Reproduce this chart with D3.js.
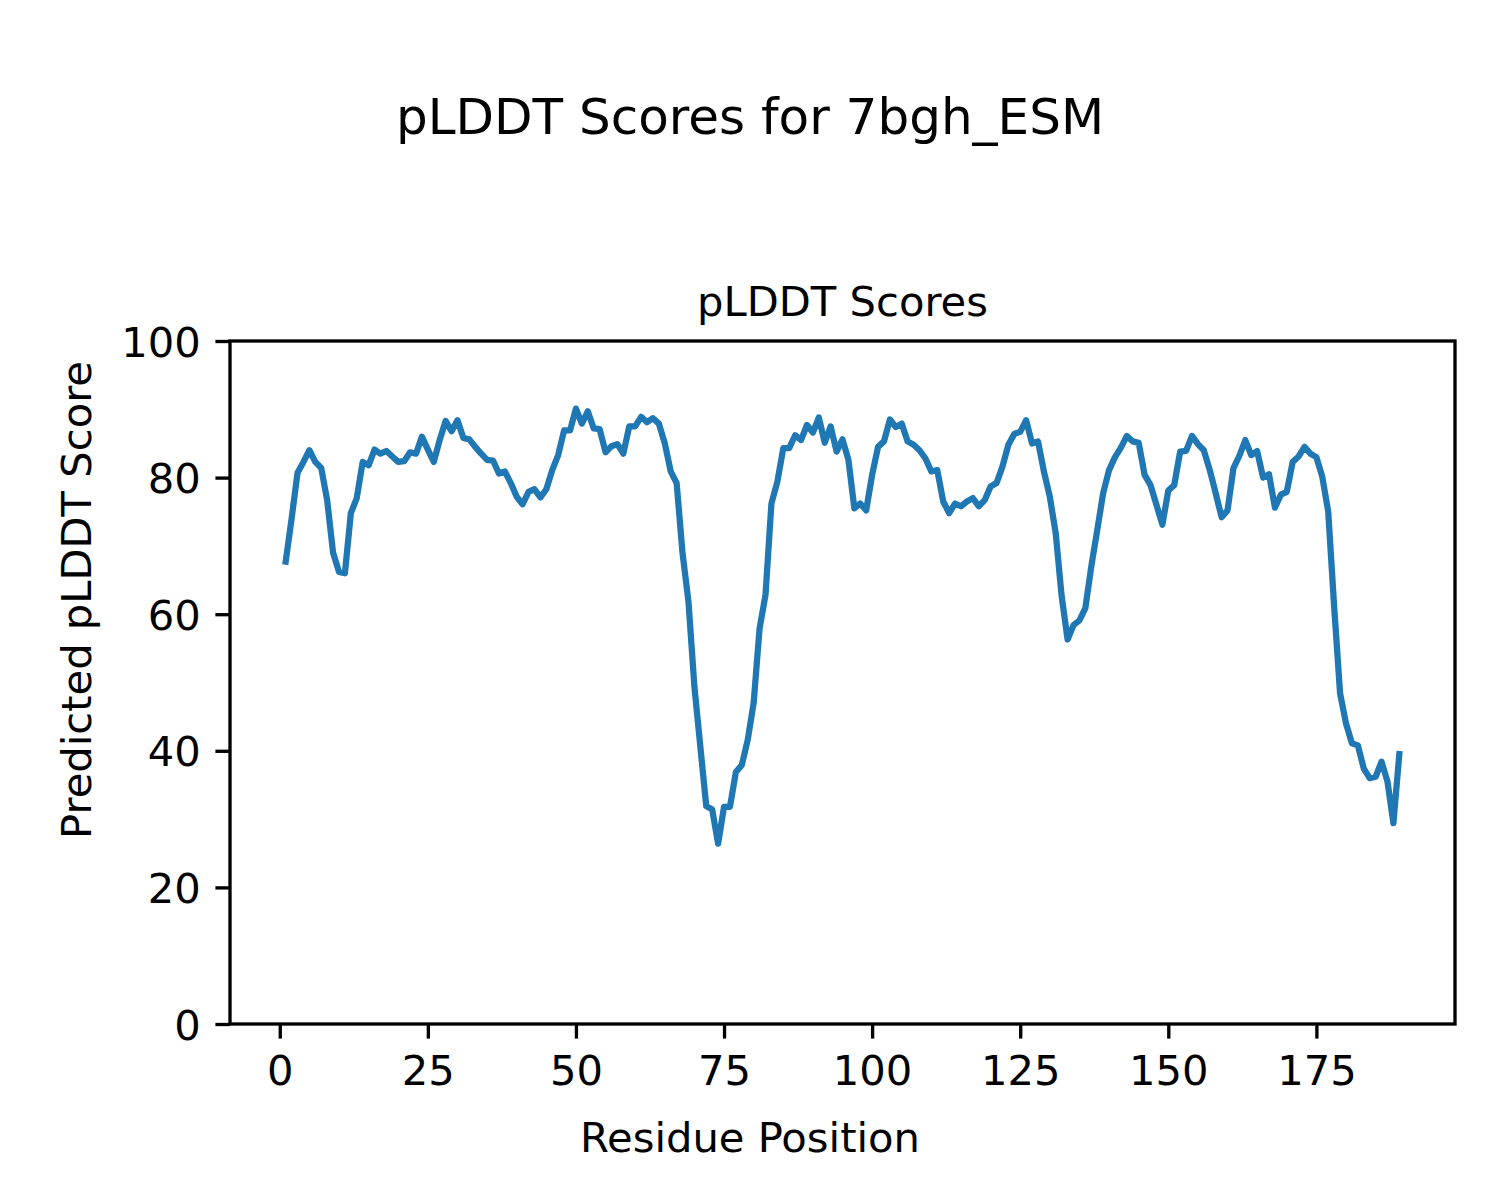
<!DOCTYPE html>
<html>
<head>
<meta charset="utf-8">
<script src="https://cdn.jsdelivr.net/npm/d3@7"></script>
<style>
  html, body { margin: 0; padding: 0; background: #ffffff; }
  svg { display: block; font-family: "DejaVu Sans", sans-serif; }
</style>
</head>
<body>
<svg id="chart" width="1500" height="1200"></svg>
<script>
const figureTitle = "pLDDT Scores for 7bgh_ESM";
const axesTitle = "pLDDT Scores";
const xLabel = "Residue Position";
const yLabel = "Predicted pLDDT Score";
const xTicks = [0, 25, 50, 75, 100, 125, 150, 175];
const yTicks = [0, 20, 40, 60, 80, 100];
const plddt = [
  67.7, 74.0, 80.7, 82.3, 84.0, 82.3, 81.4, 76.7, 69.0, 66.2,
  66.0, 74.8, 77.0, 82.3, 81.8, 84.1, 83.5, 83.9, 83.1, 82.3,
  82.4, 83.7, 83.5, 86.0, 84.1, 82.3, 85.5, 88.3, 86.8, 88.4,
  85.8, 85.6, 84.5, 83.5, 82.6, 82.5, 80.6, 80.9, 79.2, 77.2,
  76.1, 77.9, 78.3, 77.1, 78.3, 81.1, 83.3, 86.9, 86.9, 90.1,
  87.9, 89.7, 87.2, 87.1, 83.7, 84.6, 84.9, 83.5, 87.5, 87.5,
  88.9, 88.1, 88.7, 87.9, 85.0, 80.9, 79.2, 68.9, 61.8, 49.4,
  40.6, 31.9, 31.4, 26.4, 31.8, 31.8, 36.9, 37.9, 41.6, 47.0,
  57.9, 62.8, 76.2, 79.4, 84.3, 84.3, 86.2, 85.5, 87.7, 86.6,
  88.8, 85.1, 87.5, 83.8, 85.6, 82.6, 75.5, 76.2, 75.2, 80.4,
  84.5, 85.3, 88.5, 87.4, 87.9, 85.3, 84.8, 84.0, 82.8, 80.9,
  81.1, 76.5, 74.8, 76.2, 75.8, 76.5, 77.0, 75.8, 76.7, 78.7,
  79.2, 81.6, 84.8, 86.4, 86.7, 88.4, 85.0, 85.3, 80.9, 77.2,
  71.8, 62.6, 56.3, 58.4, 59.1, 60.9, 67.0, 72.3, 77.7, 81.1,
  83.0, 84.4, 86.1, 85.3, 85.1, 80.4, 78.9, 76.0, 73.1, 78.1,
  78.9, 83.8, 83.9, 86.1, 84.9, 84.0, 81.1, 77.7, 74.2, 75.2,
  81.4, 83.2, 85.5, 83.3, 83.9, 80.0, 80.5, 75.6, 77.5, 77.9,
  82.3, 83.1, 84.5, 83.5, 83.0, 80.1, 75.0, 61.1, 48.4, 44.0,
  41.1, 40.8, 37.4, 36.0, 36.2, 38.4, 35.5, 29.4, 39.5
];
const residues = plddt.map((_, i) => i + 1);

const svg = d3.select("#chart");
const plotLeft = 230, plotRight = 1455, plotTop = 341, plotBottom = 1024;
const fs = 41.67;
const tickLen = 14.6, tickPad = 14.6, lw = 3.33;

const n = residues.length;
const pad = (residues[n - 1] - residues[0]) * 0.05;
const x = d3.scaleLinear().domain([residues[0] - pad, residues[n - 1] + pad]).range([plotLeft, plotRight]);
const y = d3.scaleLinear().domain([0, 100]).range([plotBottom, plotTop]);

svg.append("rect").attr("width", 1500).attr("height", 1200).attr("fill", "#ffffff");

// line
const line = d3.line().x((d, i) => x(residues[i])).y(d => y(d));
svg.append("path")
  .datum(plddt)
  .attr("d", line)
  .attr("fill", "none")
  .attr("stroke", "#1f77b4")
  .attr("stroke-width", 6.25)
  .attr("stroke-linejoin", "round")
  .attr("stroke-linecap", "square");

// frame
svg.append("rect")
  .attr("x", plotLeft).attr("y", plotTop)
  .attr("width", plotRight - plotLeft).attr("height", plotBottom - plotTop)
  .attr("fill", "none").attr("stroke", "#000").attr("stroke-width", lw)
  .attr("stroke-linejoin", "miter");

// axes
const xAxis = d3.axisBottom(x).tickValues(xTicks).tickSize(tickLen).tickPadding(tickPad).tickFormat(d3.format("d"));
const gx = svg.append("g").attr("transform", `translate(0,${plotBottom})`).call(xAxis);
gx.select(".domain").remove();
gx.selectAll(".tick line").attr("stroke", "#000").attr("stroke-width", lw);
gx.selectAll(".tick text")
  .attr("font-size", fs).attr("fill", "#000")
  .attr("font-family", "DejaVu Sans")
  .attr("dy", null).attr("y", tickLen + tickPad + fs * 0.76);

const yAxis = d3.axisLeft(y).tickValues(yTicks).tickSize(tickLen).tickPadding(tickPad).tickFormat(d3.format("d"));
const gy = svg.append("g").attr("transform", `translate(${plotLeft},0)`).call(yAxis);
gy.select(".domain").remove();
gy.selectAll(".tick line").attr("stroke", "#000").attr("stroke-width", lw);
gy.selectAll(".tick text")
  .attr("font-size", fs).attr("fill", "#000")
  .attr("font-family", "DejaVu Sans")
  .attr("dy", "0.36em");

// titles
svg.append("text")
  .attr("x", 750).attr("y", 134)
  .attr("text-anchor", "middle")
  .attr("font-size", 50).attr("fill", "#000")
  .text(figureTitle);

svg.append("text")
  .attr("x", (plotLeft + plotRight) / 2).attr("y", 316)
  .attr("text-anchor", "middle")
  .attr("font-size", fs).attr("fill", "#000")
  .text(axesTitle);

// figure-level axis labels
svg.append("text")
  .attr("x", 750).attr("y", 1152)
  .attr("text-anchor", "middle")
  .attr("font-size", fs).attr("fill", "#000")
  .text(xLabel);

svg.append("text")
  .attr("transform", `translate(91,600) rotate(-90)`)
  .attr("text-anchor", "middle")
  .attr("font-size", fs).attr("fill", "#000")
  .text(yLabel);
</script>
</body>
</html>
